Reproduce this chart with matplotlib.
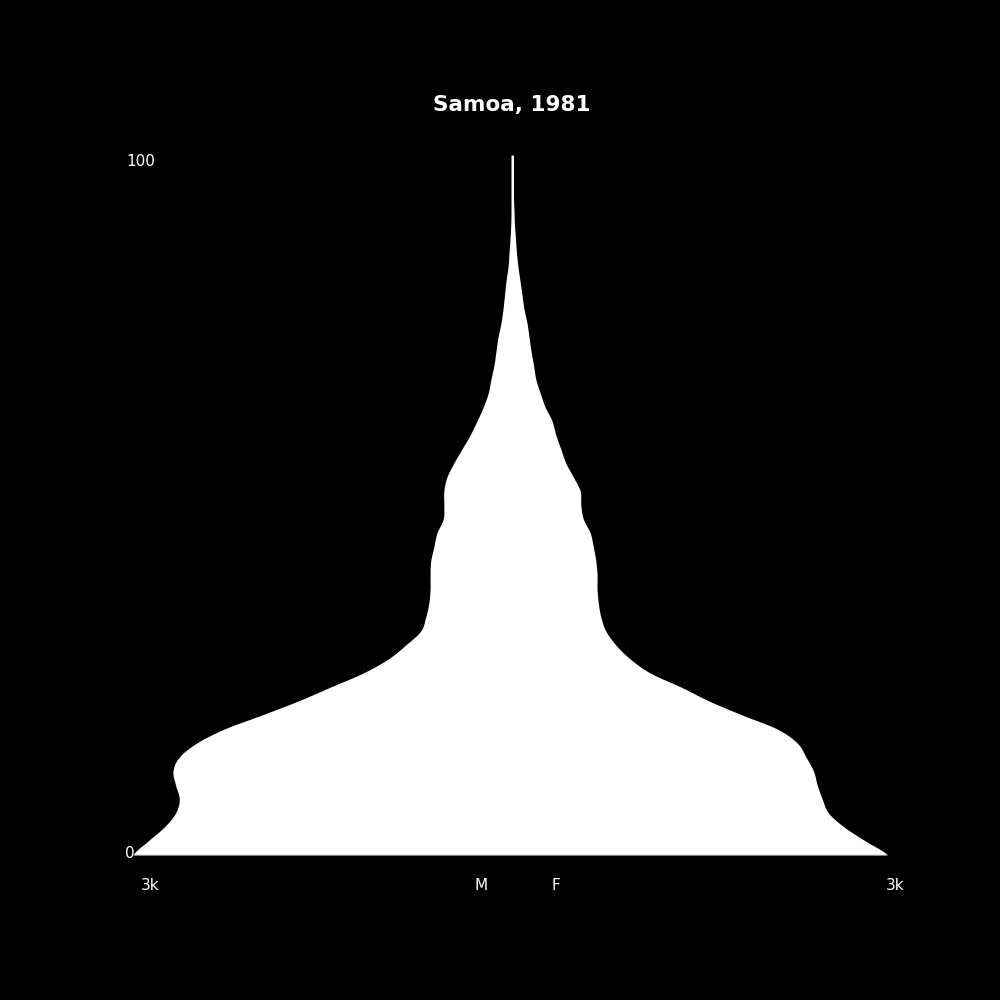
import numpy as np
import matplotlib
matplotlib.use('Agg')
import matplotlib.pyplot as plt

# 사모아 1981 인구 (나이 0~100, 2년 간격, 그림에서 읽은 값)
ages = list(range(0, 101, 2))
male = [3030, 2910, 2780, 2690, 2660, 2690, 2710, 2660, 2520, 2300,
        2000, 1710, 1450, 1190, 990, 850, 730, 690, 665, 655,
        655, 650, 625, 600, 550, 545, 545, 520, 465, 400,
        335, 280, 230, 190, 168, 144, 128, 112, 88, 72,
        60, 48, 32, 24, 16, 10, 8, 8, 8, 8, 8]
female = [3000, 2825, 2655, 2530, 2480, 2440, 2410, 2350, 2280, 2120,
          1840, 1575, 1350, 1105, 945, 830, 750, 710, 690, 680,
          680, 670, 650, 625, 570, 550, 545, 490, 430, 390,
          350, 320, 265, 225, 190, 172, 152, 136, 120, 96,
          80, 64, 48, 36, 28, 20, 16, 12, 12, 12, 12]

title = 'Samoa, 1981'


def smooth(x, y, n=12):
    """Catmull-Rom 곡선으로 부드럽게 그리기"""
    x = np.asarray(x, float)
    y = np.asarray(y, float)
    px = np.concatenate([[2 * x[0] - x[1]], x, [2 * x[-1] - x[-2]]])
    py = np.concatenate([[y[0]], y, [y[-1]]])
    t = np.linspace(0, 1, n, endpoint=False)
    xs, ys = [], []
    for i in range(1, len(px) - 2):
        for arr, out in ((px, xs), (py, ys)):
            p0, p1, p2, p3 = arr[i - 1], arr[i], arr[i + 1], arr[i + 2]
            out.extend(0.5 * (2 * p1 + (-p0 + p2) * t
                              + (2 * p0 - 5 * p1 + 4 * p2 - p3) * t ** 2
                              + (-p0 + 3 * p1 - 3 * p2 + p3) * t ** 3))
    xs.append(x[-1])
    ys.append(y[-1])
    return np.array(xs), np.clip(np.array(ys), 0, None)


fig = plt.figure(figsize=(10, 10), dpi=100, facecolor='black')
ax = fig.add_axes([0.133, 0.145, 0.758, 0.70])
ax.set_facecolor('black')

a_m, v_m = smooth(ages, male)
a_f, v_f = smooth(ages, female)
# 한 다각형으로 채워서 가운데 이음선이 생기지 않게
ax.fill_betweenx(a_m, -v_m, v_f, color='white', linewidth=0)
ax.plot([-male[0], female[0]], [0, 0], color='#888888', linewidth=1)

lim = max(max(male), max(female))
ax.set_xlim(-lim, lim)
ax.set_ylim(0, 100)
ax.axis('off')

fig.text(0.512, 0.895, title, color='white', fontsize=15.5, fontweight='bold',
         ha='center', va='center')
fig.text(0.126, 0.839, '100', color='white', fontsize=11, ha='left', va='center')
fig.text(0.125, 0.146, '0', color='white', fontsize=11, ha='left', va='center')
fig.text(0.150, 0.115, '3k', color='white', fontsize=11, ha='center', va='center')
fig.text(0.481, 0.115, 'M', color='white', fontsize=11, ha='center', va='center')
fig.text(0.556, 0.115, 'F', color='white', fontsize=11, ha='center', va='center')
fig.text(0.895, 0.115, '3k', color='white', fontsize=11, ha='center', va='center')

plt.savefig('out.png', dpi=100, facecolor='black')
plt.close()
